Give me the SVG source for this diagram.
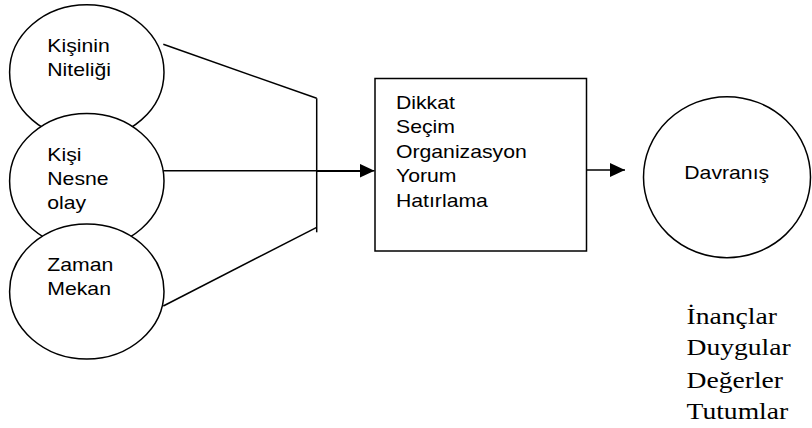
<svg xmlns="http://www.w3.org/2000/svg" width="812" height="428" viewBox="0 0 812 428">
<defs>
<style>
.shape{fill:#fff;stroke:#000;stroke-width:1.5}
.ln{fill:none;stroke:#000;stroke-width:1.5}
.sans{font-family:"Liberation Sans",Arial,sans-serif;font-size:18.6px;fill:#000}
.serif{font-family:"Liberation Serif","Times New Roman",serif;font-size:24px;fill:#000}
</style>
<marker id="arr" markerWidth="16" markerHeight="14" refX="15" refY="7" orient="auto" markerUnits="userSpaceOnUse">
<path d="M0,0 L15,7 L0,14 Z" fill="#000"/>
</marker>
</defs>
<rect width="812" height="428" fill="#fff"/>
<g id="node-kisinin">
<ellipse class="shape" cx="86.8" cy="72.2" rx="77.2" ry="67.5"/>
<g transform="translate(47.3,52.3) scale(1.14 1)"><text class="sans"><tspan x="0" y="0">Kişinin</tspan><tspan x="0" y="24">Niteliği</tspan></text></g>
</g>
<g id="node-kisi">
<ellipse class="shape" cx="86.8" cy="181" rx="77.2" ry="67.5"/>
<g transform="translate(47.3,160.7) scale(1.14 1)"><text class="sans"><tspan x="0" y="0">Kişi</tspan><tspan x="0" y="24.3">Nesne</tspan><tspan x="0" y="48.6">olay</tspan></text></g>
</g>
<g id="node-zaman">
<ellipse class="shape" cx="86.8" cy="291.5" rx="77.2" ry="67.5"/>
<g transform="translate(47.3,270.7) scale(1.14 1)"><text class="sans"><tspan x="0" y="0">Zaman</tspan><tspan x="0" y="24.3">Mekan</tspan></text></g>
</g>
<g id="node-surec">
<rect class="shape" x="375" y="78.5" width="211.5" height="172.5"/>
<g transform="translate(396,109) scale(1.14 1)"><text class="sans"><tspan x="0" y="0">Dikkat</tspan><tspan x="0" y="24.4">Seçim</tspan><tspan x="0" y="48.8">Organizasyon</tspan><tspan x="0" y="73.2">Yorum</tspan><tspan x="0" y="97.6">Hatırlama</tspan></text></g>
</g>
<g id="node-davranis">
<ellipse class="shape" cx="727" cy="177.2" rx="83.5" ry="80.5"/>
<g transform="translate(684.3,179) scale(1.14 1)"><text class="sans">Davranış</text></g>
</g>
<g id="node-tutumlar">
<g transform="translate(686.5,323.5) scale(1.15 1)"><text class="serif"><tspan x="0" y="0">İnançlar</tspan><tspan x="0" y="32">Duygular</tspan><tspan x="0" y="64.5">Değerler</tspan><tspan x="0" y="96">Tutumlar</tspan></text></g>
</g>
<g id="connectors">
<line class="ln" x1="163.3" y1="44.3" x2="316.7" y2="98.3"/>
<line class="ln" x1="316.7" y1="98.3" x2="316.7" y2="232.3"/>
<line class="ln" x1="163.3" y1="306" x2="316.7" y2="227.3"/>
<line class="ln" x1="163.3" y1="170.7" x2="374.5" y2="170.7" marker-end="url(#arr)"/>
<line class="ln" x1="316.7" y1="171.2" x2="360" y2="171.2"/>
<line class="ln" x1="586.5" y1="170" x2="625" y2="170" marker-end="url(#arr)"/>
</g>
</svg>
